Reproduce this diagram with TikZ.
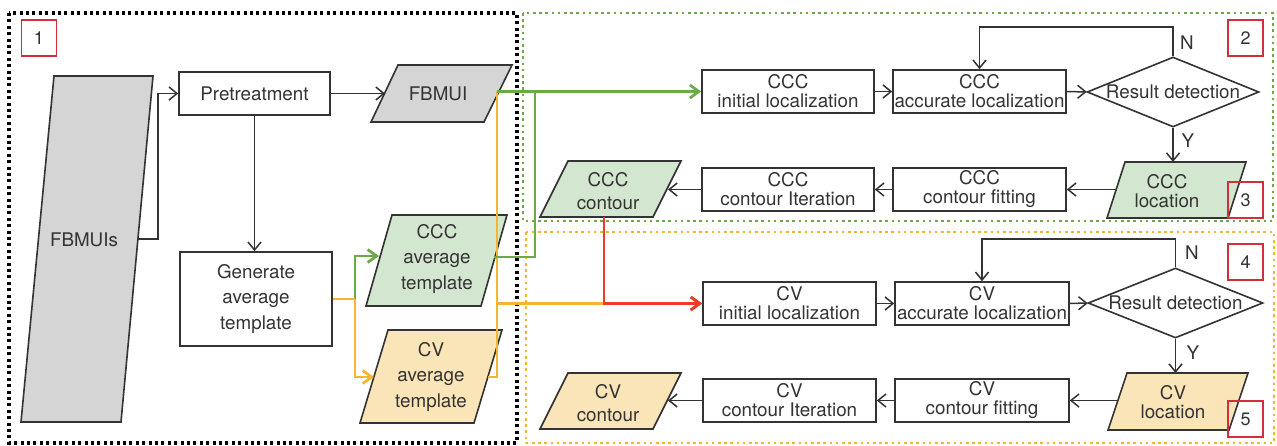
\documentclass[tikz,border=0pt]{standalone}
\usepackage{fontspec}
\setmainfont{TeX Gyre Heros}
\usetikzlibrary{arrows.meta,shapes.geometric}

\definecolor{ink}{HTML}{333333}
\definecolor{shade}{HTML}{D5D5D5}
\definecolor{cccfill}{HTML}{D3E6CF}
\definecolor{cvfill}{HTML}{FAE5B9}
\definecolor{cccline}{HTML}{6BAA46}
\definecolor{cvline}{HTML}{F4B630}
\definecolor{redline}{HTML}{EC3A2D}
\definecolor{tagred}{HTML}{D0303A}

\tikzset{
  lbl/.style={font=\fontsize{18.8}{19}\selectfont, text=ink, align=center, inner sep=0pt},
  lbltall/.style={lbl, font=\fontsize{18.8}{25.5}\selectfont},
  lblmid/.style={lbl, font=\fontsize{18.8}{23}\selectfont},
  proc/.style={lbl, draw=ink, line width=1.6pt, fill=white},
  decide/.style={diamond, draw=ink, line width=1.6pt, fill=white, inner sep=0pt},
  datashape/.style={draw=ink, line width=1.6pt, line join=miter},
  tag/.style={draw=tagred, line width=1.8pt, minimum width=35pt, minimum height=36pt,
              font=\fontsize{18}{18}\selectfont, text=ink, inner sep=0pt},
  conn/.style={draw=ink, line width=1.5pt, -{Straight Barb[length=8pt,width=13pt]}},
  cccwire/.style={draw=cccline, line width=2.7pt, line join=miter},
  cvwire/.style={draw=cvline, line width=2.7pt, line join=miter},
  redwire/.style={draw=redline, line width=2.9pt, line join=miter},
  boldtip/.style={-{Straight Barb[length=9pt,width=13pt]}},
  frameblack/.style={draw=black, line width=3.3pt, dash pattern=on 3pt off 3.4pt},
  framegreen/.style={draw=cccline, line width=2.7pt, dash pattern=on 2.6pt off 3.6pt},
  frameorange/.style={draw=cvline, line width=2.7pt, dash pattern=on 2.6pt off 3.6pt},
}

\begin{document}
\begin{tikzpicture}[x=1pt, y=-1pt]
\useasboundingbox[fill=white] (0,0) rectangle (1277,446);

% ---------- group frames ----------
\draw[frameblack] (9,13) rectangle (517,443);
\draw[framegreen] (523,13) rectangle (1273,221);
\draw[frameorange] (526,232) rectangle (1274,443);

% ---------- input / template data shapes ----------
\draw[datashape, fill=shade] (54,76) -- (153,76) -- (121,422) -- (21,422) -- cycle;
\node[lbl] (fbmuis) at (84,240) {FBMUIs};
\coordinate (fbmuis-out) at (138,239);

\draw[datashape, fill=shade] (398,65) -- (512,65) -- (484,122) -- (371,122) -- cycle;
\node[lbl] (fbmui) at (438,94) {FBMUI};
\coordinate (fbmui-in) at (385,93.5);
\coordinate (fbmui-out) at (497,91.5);

\draw[datashape, fill=cccfill] (392,215) -- (507,215) -- (481,306) -- (366,306) -- cycle;
\node[lbltall] (cccavg) at (437,259) {CCC\\average\\template};
\coordinate (cccavg-in) at (379,256);
\coordinate (cccavg-out) at (494,257);

\draw[datashape, fill=cvfill] (388,330) -- (502,330) -- (474,423) -- (360,423) -- cycle;
\node[lbltall] (cvavg) at (431,377) {CV\\average\\template};
\coordinate (cvavg-in) at (374,377);
\coordinate (cvavg-out) at (488,377);

% ---------- stage 1 processes ----------
\node[proc, minimum width=151pt, minimum height=43pt] (pre) at (254.5,93.5) {Pretreatment};
\node[proc, lbltall, minimum width=152pt, minimum height=94pt] (gen) at (256,299) {Generate\\average\\template};

\draw[conn] (fbmuis-out) -- ++(20,0) |- (pre.west);
\draw[conn] (pre.east) -- (fbmui-in);
\draw[conn] (pre.south) -- (pre.south |- gen.north);

% template split
\coordinate (split) at (355,299);
\draw[cccwire, boldtip] (split) |- (cccavg-in);
\draw[cvwire, boldtip] (split) |- (cvavg-in);
\draw[cvwire] (gen.east) -- (split);

% ---------- CCC branch (2, 3) ----------
\node[proc, minimum width=172pt, minimum height=43pt] (cccinit) at (788,91.5) {CCC\\initial localization};
\node[proc, minimum width=173pt, minimum height=43pt] (cccacc) at (979.5,91.5) {CCC\\accurate localization};
\node[decide, minimum width=172pt, minimum height=70pt, label={[lbl]center:Result detection}] (cccdet) at (1173,92) {};
\node[proc, minimum width=172pt, minimum height=43pt] (cccit) at (788,189.5) {CCC\\contour Iteration};
\node[proc, minimum width=173pt, minimum height=43pt] (cccfit) at (979.5,189.5) {CCC\\contour fitting};

\draw[datashape, fill=cccfill] (1125,162) -- (1246,162) -- (1228,218) -- (1107,218) -- cycle;
\node[lbl] (cccloc) at (1167,191) {CCC\\location};
\coordinate (cccloc-in) at (1173,162);
\coordinate (cccloc-out) at (1117,189.5);

\draw[datashape, fill=cccfill] (568,161) -- (681,161) -- (653,217) -- (540,217) -- cycle;
\node[lblmid] (ccccont) at (608,191.5) {CCC\\contour};
\coordinate (ccccont-in) at (668,189.5);
\coordinate (ccccont-out) at (604,217);

\draw[conn] (cccinit) -- (cccacc);
\draw[conn] (cccacc) -- (cccdet);
\draw[conn] (cccdet.north) -- ++(0,-29) -| (cccacc.north);
\node[lbl] (cccno) at (1187,43) {N};
\draw[conn] (cccdet.south) -- (cccloc-in);
\node[lbl] (cccyes) at (1188,141) {Y};
\draw[conn] (cccloc-out) -- (cccfit.east);
\draw[conn] (cccfit) -- (cccit);
\draw[conn] (cccit.west) -- (ccccont-in);

% ---------- CV branch (4, 5) ----------
\node[proc, minimum width=173pt, minimum height=43pt] (cvinit) at (789.5,303.5) {CV\\initial localization};
\node[proc, minimum width=174pt, minimum height=43pt] (cvacc) at (982,303.5) {CV\\accurate localization};
\node[decide, minimum width=175pt, minimum height=70pt, label={[lbl]center:Result detection}] (cvdet) at (1175.5,303) {};
\node[proc, minimum width=173pt, minimum height=43pt] (cvit) at (789.5,400.5) {CV\\contour Iteration};
\node[proc, minimum width=174pt, minimum height=43pt] (cvfit) at (982,400.5) {CV\\contour fitting};

\draw[datashape, fill=cvfill] (1127,373) -- (1248,373) -- (1229,430) -- (1108,430) -- cycle;
\node[lbl] (cvloc) at (1173,402) {CV\\location};
\coordinate (cvloc-in) at (1175.5,373);
\coordinate (cvloc-out) at (1118,400.5);

\draw[datashape, fill=cvfill] (568,373) -- (681,373) -- (653,429) -- (540,429) -- cycle;
\node[lblmid] (cvcont) at (608,403.5) {CV\\contour};
\coordinate (cvcont-in) at (668,400.5);

\draw[conn] (cvinit) -- (cvacc);
\draw[conn] (cvacc) -- (cvdet);
\draw[conn] (cvdet.north) -- ++(0,-28) -| (cvacc.north);
\node[lbl] (cvno) at (1192,253) {N};
\draw[conn] (cvdet.south) -- (cvloc-in);
\node[lbl] (cvyes) at (1193,353) {Y};
\draw[conn] (cvloc-out) -- (cvfit.east);
\draw[conn] (cvfit) -- (cvit);
\draw[conn] (cvit.west) -- (cvcont-in);

% ---------- coloured feeds between stages ----------
\coordinate (cvtap) at (497,303.5);
\draw[cvwire] (fbmui-out) -- (fbmui-out |- cvavg-out) -- (cvavg-out);
\draw[cvwire, boldtip] (cvtap) -- (cvinit.west);
\draw[cccwire] (cccavg-out) -| (535,91.5);
\draw[cccwire, boldtip] (fbmui-out) -- (cccinit.west);
\draw[redwire, boldtip] (ccccont-out) |- (cvinit.west);

% ---------- stage tags ----------
\node[tag] (tag1) at (39,38) {1};
\node[tag] (tag2) at (1245.5,38) {2};
\node[tag] (tag3) at (1245.5,200) {3};
\node[tag] (tag4) at (1245.5,262) {4};
\node[tag] (tag5) at (1245.5,419) {5};
\end{tikzpicture}
\end{document}
